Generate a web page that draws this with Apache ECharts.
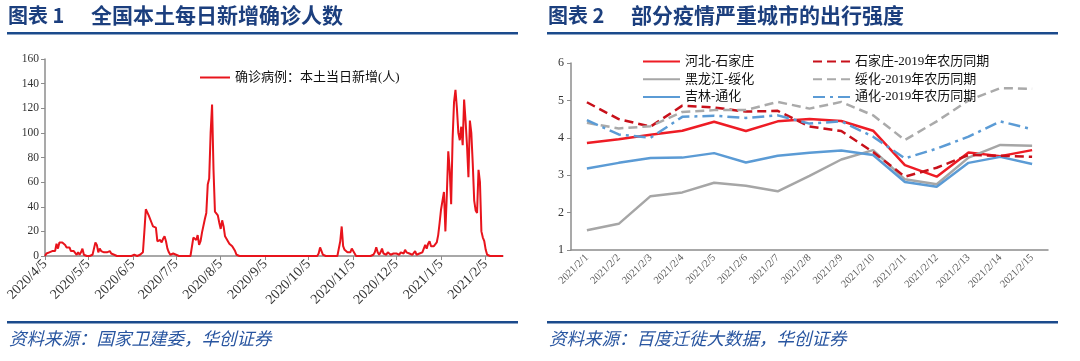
<!DOCTYPE html>
<html><head><meta charset="utf-8">
<script src="https://cdn.jsdelivr.net/npm/echarts@6/dist/echarts.min.js"></script>
<style>html,body{margin:0;padding:0;background:#fff}#c{width:1080px;height:361px}</style>
</head><body><div id="c"></div>
<script>
// ---------- Chart 1: daily new local confirmed cases (2020/4/5 .. 2021/2/17)
var startDate = [2020, 4, 5];
var dailyCases = [
 0,2,2,3,3,4,3,4,10,6,11,12,11,10,9,7,6,7,4,3,4,5,1,3,1,3,6,1,0,0,
 0,0,0,1,6,11,9,3,6,4,4,3,3,3,3,4,2,1,1,0,0,0,0,0,0,0,0,0,0,0,
 0,1,1,0,0,0,1,1,3,20,38,38,33,32,27,24,25,23,12,11,13,11,14,16,12,6,3,1,2,2,
 2,1,0,0,0,0,0,0,0,0,0,0,0,15,16,13,17,9,12,19,20,30,35,58,63,100,123,70,36,35,
 33,27,22,29,24,16,14,12,10,9,8,7,4,1,0,0,0,0,0,0,0,0,0,0,0,0,0,0,0,0,
 0,0,0,0,0,0,0,0,0,0,0,0,0,0,0,0,0,0,0,0,0,0,0,0,0,0,0,0,0,0,
 0,0,0,0,0,0,0,0,0,0,2,7,7,1,0,0,0,0,0,0,0,0,0,0,0,12,24,8,5,5,
 3,4,3,6,5,2,0,0,0,0,0,0,0,0,0,0,0,0,1,3,7,3,1,3,6,2,1,1,3,2,
 1,1,2,1,2,1,1,3,2,2,5,3,4,2,3,1,2,4,1,1,2,2,3,6,9,6,10,12,8,9,
 8,9,11,17,27,38,45,52,20,50,85,70,42,95,125,135,120,100,94,105,90,127,110,90,64,110,100,75,45,37,
 35,70,60,20,15,12,5,1,0,0,0,0,1,0,0,0,0,0,0
];
var chart1YTicks = [0, 160, 20];
var chart1Legend = '确诊病例：本土当日新增(人)';

// ---------- Chart 2: mobility intensity
var dates2 = ['2021/2/1','2021/2/2','2021/2/3','2021/2/4','2021/2/5','2021/2/6','2021/2/7','2021/2/8',
              '2021/2/9','2021/2/10','2021/2/11','2021/2/12','2021/2/13','2021/2/14','2021/2/15'];
var sjz      = [3.86,3.96,4.08,4.19,4.43,4.18,4.44,4.50,4.45,4.19,3.27,2.96,3.61,3.51,3.67];
var suihua   = [1.53,1.70,2.44,2.54,2.80,2.72,2.57,2.98,3.42,3.67,2.89,2.76,3.47,3.81,3.79];
var tonghua  = [3.18,3.33,3.46,3.47,3.59,3.34,3.52,3.60,3.66,3.54,2.82,2.69,3.33,3.49,3.30];
var sjz2019  = [4.95,4.50,4.30,4.86,4.81,4.70,4.72,4.30,4.18,3.62,2.96,3.20,3.54,3.52,3.49];
var sh2019   = [4.40,4.25,4.31,4.69,4.74,4.74,4.96,4.78,4.96,4.60,3.94,4.44,5.00,5.33,5.31];
var th2019   = [4.47,4.09,4.00,4.56,4.59,4.53,4.60,4.38,4.44,4.03,3.45,3.71,4.03,4.44,4.23];
var names2 = ['河北-石家庄','黑龙江-绥化','吉林-通化','石家庄-2019年农历同期','绥化-2019年农历同期','通化-2019年农历同期'];
var chart2YTicks = [1, 6, 1];

// category dates for chart 1
var dates1 = [];
(function(){
  var d = new Date(startDate[0], startDate[1]-1, startDate[2]);
  for (var i = 0; i < dailyCases.length; i++) {
    dates1.push(d.getFullYear() + '/' + (d.getMonth()+1) + '/' + d.getDate());
    d.setDate(d.getDate()+1);
  }
})();

var SERIF = '"Liberation Serif","Noto Sans CJK SC",serif';
var CJK = '"Liberation Serif","Noto Sans CJK SC",sans-serif';
var NAVY = '#1C3F7E';
var RULE = '#1B4A8C';
var AX = '#8C8C8C';
function isFifth(i, v){ return String(v).split('/')[2] === '5'; }
var legText = {fontSize:13, fontFamily:CJK, color:'#111'};

var chart = echarts.init(document.getElementById('c'), null, {renderer:'canvas'});
chart.setOption({
  animation: false,
  backgroundColor: '#fff',
  graphic: [
    {type:'text', left:8, top:5, style:{text:'图表 1', fill:NAVY, font:'bold 20px "Noto Sans CJK SC"'}},
    {type:'text', left:91, top:5, style:{text:'全国本土每日新增确诊人数', fill:NAVY, font:'bold 21px "Noto Sans CJK SC"'}},
    {type:'rect', shape:{x:7, y:32, width:511, height:2.5}, style:{fill:RULE}},
    {type:'text', left:548, top:5, style:{text:'图表 2', fill:NAVY, font:'bold 20px "Noto Sans CJK SC"'}},
    {type:'text', left:631, top:5, style:{text:'部分疫情严重城市的出行强度', fill:NAVY, font:'bold 21px "Noto Sans CJK SC"'}},
    {type:'rect', shape:{x:547, y:32, width:511, height:2.5}, style:{fill:RULE}},
    {type:'rect', shape:{x:7, y:321, width:511, height:2.5}, style:{fill:RULE}},
    {type:'rect', shape:{x:547, y:321, width:511, height:2.5}, style:{fill:RULE}},
    {type:'text', left:9, top:330, style:{text:'资料来源：国家卫建委，华创证券', fill:'#2855A0', font:'italic 17.5px "Noto Sans CJK SC"'}},
    {type:'text', left:549, top:330, style:{text:'资料来源：百度迁徙大数据，华创证券', fill:'#2855A0', font:'italic 17.5px "Noto Sans CJK SC"'}}
  ],
  legend: [
    {data:[chart1Legend], left:194, top:66, itemWidth:30, itemHeight:12, itemGap:4, itemStyle:{opacity:0}, textStyle:legText},
    {data:names2.slice(0,3), orient:'vertical', left:637, top:50, itemWidth:37, itemHeight:12, itemGap:4.7, itemStyle:{opacity:0}, textStyle:legText},
    {data:names2.slice(3), orient:'vertical', left:807, top:50, itemWidth:37, itemHeight:12, itemGap:4.7, itemStyle:{opacity:0}, textStyle:legText}
  ],
  grid: [
    {left:45, top:59, width:458, height:197},
    {left:571, top:63, width:477, height:187}
  ],
  xAxis: [
    {type:'category', gridIndex:0, data:dates1, boundaryGap:false,
     axisLine:{lineStyle:{color:AX, width:1.5}},
     axisTick:{interval:isFifth, length:4, lineStyle:{color:AX}},
     axisLabel:{interval:isFifth, rotate:45, fontSize:14, fontFamily:SERIF, color:'#333', margin:6}},
    {type:'category', gridIndex:1, data:dates2, boundaryGap:true,
     axisLine:{lineStyle:{color:AX, width:1.5}},
     axisTick:{length:4, lineStyle:{color:AX}},
     axisLabel:{interval:0, rotate:45, fontSize:10.5, fontFamily:SERIF, color:'#595959', margin:6}}
  ],
  yAxis: [
    {type:'value', gridIndex:0, min:chart1YTicks[0], max:chart1YTicks[1], interval:chart1YTicks[2],
     axisLine:{show:true, lineStyle:{color:AX, width:1.5}}, axisTick:{show:true, length:4, lineStyle:{color:AX}},
     splitLine:{show:false}, axisLabel:{fontSize:11.5, fontFamily:SERIF, color:'#333', margin:6}},
    {type:'value', gridIndex:1, min:chart2YTicks[0], max:chart2YTicks[1], interval:chart2YTicks[2],
     axisLine:{show:true, lineStyle:{color:AX, width:1.5}}, axisTick:{show:true, length:4, lineStyle:{color:AX}},
     splitLine:{show:false}, axisLabel:{fontSize:12, fontFamily:SERIF, color:'#333', margin:7}}
  ],
  series: [
    {name:chart1Legend, type:'line', xAxisIndex:0, yAxisIndex:0, data:dailyCases, symbol:'none',
     lineStyle:{color:'#E8141C', width:2}, itemStyle:{color:'#E8141C'}},
    {name:names2[0], type:'line', xAxisIndex:1, yAxisIndex:1, data:sjz, symbol:'none',
     lineStyle:{color:'#EE1C25', width:2.5}, itemStyle:{color:'#EE1C25'}},
    {name:names2[1], type:'line', xAxisIndex:1, yAxisIndex:1, data:suihua, symbol:'none',
     lineStyle:{color:'#A6A6A6', width:2.5}, itemStyle:{color:'#A6A6A6'}},
    {name:names2[2], type:'line', xAxisIndex:1, yAxisIndex:1, data:tonghua, symbol:'none',
     lineStyle:{color:'#5B9BD5', width:2.5}, itemStyle:{color:'#5B9BD5'}},
    {name:names2[3], type:'line', xAxisIndex:1, yAxisIndex:1, data:sjz2019, symbol:'none',
     lineStyle:{color:'#C8101A', width:2.5, type:[9,5]}, itemStyle:{color:'#C8101A'}},
    {name:names2[4], type:'line', xAxisIndex:1, yAxisIndex:1, data:sh2019, symbol:'none',
     lineStyle:{color:'#AAAAAA', width:2.5, type:[9,5]}, itemStyle:{color:'#AAAAAA'}},
    {name:names2[5], type:'line', xAxisIndex:1, yAxisIndex:1, data:th2019, symbol:'none',
     lineStyle:{color:'#5B9BD5', width:2.5, type:[12,5,3,5]}, itemStyle:{color:'#5B9BD5'}}
  ]
});
</script></body></html>
